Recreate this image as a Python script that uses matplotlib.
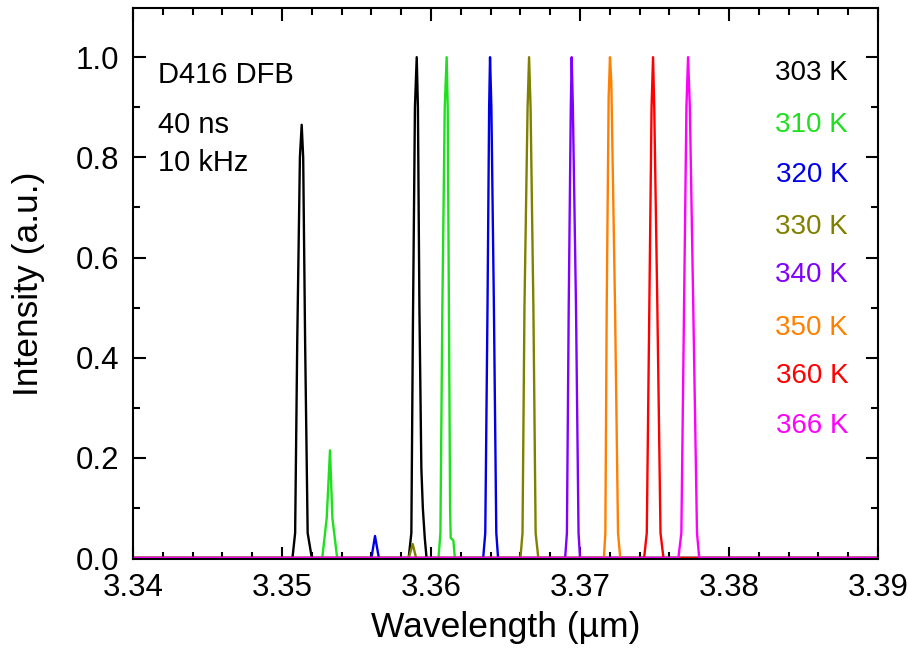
"""Emission spectra of the D416 DFB laser at several heat-sink temperatures."""

import matplotlib
matplotlib.use("Agg")
import matplotlib.pyplot as plt
from matplotlib.ticker import MultipleLocator, FormatStrFormatter

plt.rcParams["font.family"] = ["Liberation Sans", "DejaVu Sans"]

# spectra: wavelength (um) and normalised intensity
wl_303 = [3.3400, 3.3507, 3.35088, 3.35102, 3.35120, 3.35132, 3.35142, 3.35155, 3.35172, 3.3520,
          3.3585, 3.35868, 3.35878, 3.35892, 3.35904, 3.35912, 3.35922, 3.35935, 3.35945, 3.35958,
          3.3597, 3.3900]
int_303 = [0, 0, 0.05, 0.43, 0.80, 0.865, 0.80, 0.43, 0.05, 0,
           0, 0.05, 0.45, 0.90, 1.0, 0.90, 0.50, 0.18, 0.10, 0.04,
           0, 0]

wl_310 = [3.3400, 3.3527, 3.3530, 3.35322, 3.35338, 3.3537,
          3.3605, 3.36063, 3.36076, 3.36092, 3.36105, 3.36112, 3.36120, 3.36128, 3.36132, 3.36150,
          3.3616, 3.3900]
int_310 = [0, 0, 0.08, 0.215, 0.08, 0,
           0, 0.05, 0.50, 0.90, 1.0, 0.90, 0.50, 0.10, 0.04, 0.035,
           0, 0]

wl_320 = [3.3400, 3.3560, 3.35624, 3.3565,
          3.3635, 3.36364, 3.36379, 3.36390, 3.36396, 3.36405, 3.36422, 3.36438, 3.3645, 3.3900]
int_320 = [0, 0, 0.044, 0,
           0, 0.05, 0.50, 0.90, 1.0, 0.90, 0.50, 0.05, 0, 0]

wl_330 = [3.3400, 3.3585, 3.35877, 3.3590,
          3.3660, 3.36614, 3.36627, 3.36648, 3.36658, 3.36668, 3.36687, 3.36702, 3.3672, 3.3900]
int_330 = [0, 0, 0.028, 0,
           0, 0.05, 0.50, 0.90, 1.0, 0.90, 0.50, 0.05, 0, 0]

wl_340 = [3.3400, 3.3690, 3.36912, 3.36924, 3.36938, 3.36944, 3.36952, 3.36973, 3.36990, 3.3700, 3.3900]
int_340 = [0, 0, 0.05, 0.50, 0.90, 1.0, 0.90, 0.50, 0.05, 0, 0]

wl_350 = [3.3400, 3.3716, 3.37170, 3.37179, 3.37192, 3.37201, 3.37210, 3.37235, 3.37255, 3.3727, 3.3900]
int_350 = [0, 0, 0.05, 0.50, 0.92, 1.0, 0.95, 0.50, 0.05, 0, 0]

wl_360 = [3.3400, 3.3743, 3.37448, 3.37465, 3.37480, 3.37490, 3.37498, 3.37519, 3.37540, 3.3756, 3.3900]
int_360 = [0, 0, 0.05, 0.50, 0.90, 1.0, 0.90, 0.50, 0.05, 0, 0]

wl_366 = [3.3400, 3.3766, 3.37680, 3.37698, 3.37714, 3.37725, 3.37737, 3.37760, 3.37785, 3.3780, 3.3900]
int_366 = [0, 0, 0.05, 0.50, 0.90, 1.0, 0.90, 0.50, 0.05, 0, 0]

temps = ["303 K", "310 K", "320 K", "330 K", "340 K", "350 K", "360 K", "366 K"]
colors = ["#000000", "#1EE01E", "#0000E6", "#808000", "#8000FF", "#FF8000", "#FF0000", "#FF00FF"]
label_y = [0.968, 0.865, 0.765, 0.661, 0.566, 0.460, 0.363, 0.263]

info_lines = ["D416 DFB", "40 ns", "10 kHz"]
info_y = [0.964, 0.865, 0.789]

spectra = [(wl_303, int_303), (wl_310, int_310), (wl_320, int_320), (wl_330, int_330),
           (wl_340, int_340), (wl_350, int_350), (wl_360, int_360), (wl_366, int_366)]

fig = plt.figure(figsize=(9.08, 6.52), dpi=100)
ax = fig.add_axes([0.1465, 0.1426, 0.8205, 0.845])

for (wl, inten), color in zip(spectra, colors):
    ax.plot(wl, inten, color=color, linewidth=1.7, zorder=2)

for txt, y, color in zip(temps, label_y, colors):
    ax.text(3.3880, y, txt, color=color, fontsize=20, ha="right", va="center")

for txt, y in zip(info_lines, info_y):
    ax.text(3.3417, y, txt, color="black", fontsize=21, ha="left", va="center")

ax.set_xlim(3.34, 3.39)
ax.set_ylim(-0.002, 1.098)
ax.xaxis.set_major_locator(MultipleLocator(0.01))
ax.xaxis.set_minor_locator(MultipleLocator(0.002))
ax.yaxis.set_major_locator(MultipleLocator(0.2))
ax.yaxis.set_minor_locator(MultipleLocator(0.1))
ax.xaxis.set_major_formatter(FormatStrFormatter("%.2f"))
ax.yaxis.set_major_formatter(FormatStrFormatter("%.1f"))

ax.tick_params(which="both", direction="in", top=True, right=True, width=1.5, labelsize=22.5)
ax.tick_params(which="major", length=9)
ax.tick_params(which="minor", length=5)
ax.tick_params(axis="x", pad=10)
ax.tick_params(axis="y", pad=10)
for spine in ax.spines.values():
    spine.set_linewidth(1.5)

ax.set_xlabel("Wavelength (µm)", fontsize=25.5, labelpad=6)
ax.set_ylabel("Intensity (a.u.)", fontsize=25.5, labelpad=22)

fig.savefig("out.png", dpi=100)
